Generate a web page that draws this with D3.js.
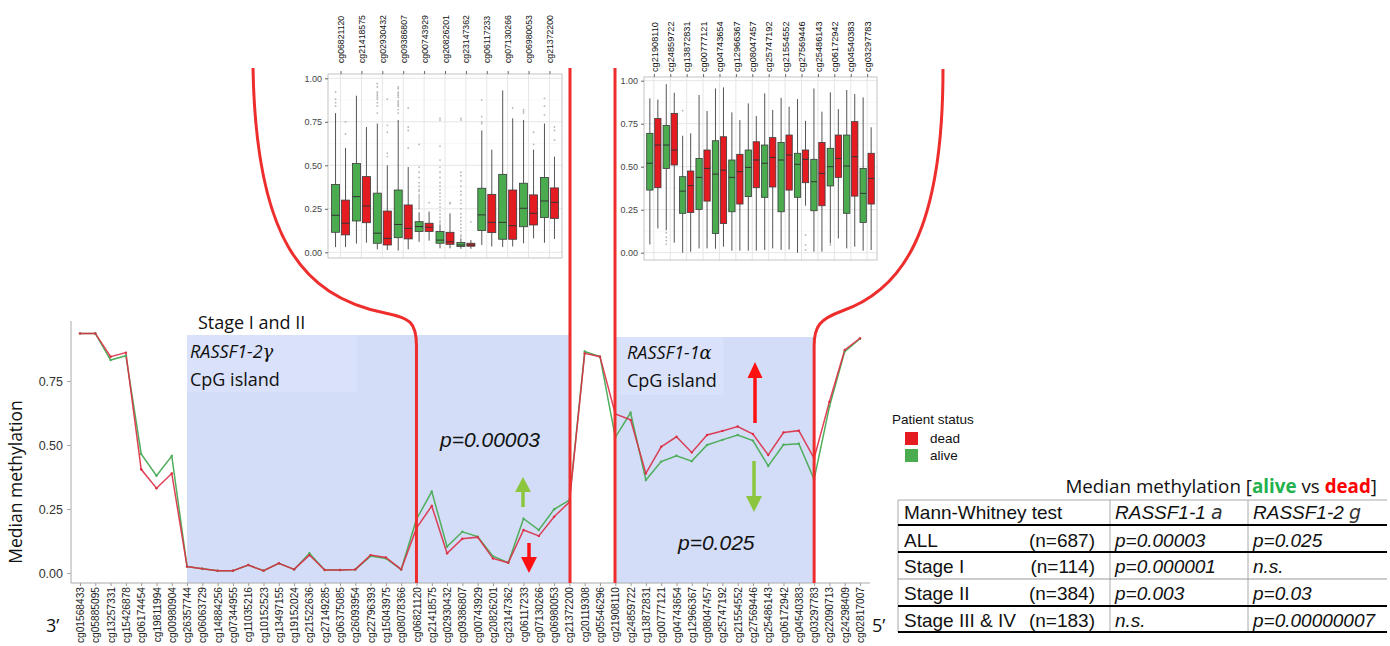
<!DOCTYPE html>
<html><head><meta charset="utf-8">
<script src="https://cdn.jsdelivr.net/npm/d3@7"></script>
<style>body{margin:0;background:#fff} svg{display:block}</style>
</head><body>
<svg id="c" width="1390" height="646"></svg>
<script>
// ---------------- DATA ----------------
const probes = ["cg01568433","cg05885095","cg13257331","cg15426878","cg06174454","cg19811994","cg00980904","cg26357744","cg06063729","cg14884256","cg07344955","cg11035216","cg10152523","cg13497155","cg19152024","cg21522636","cg27149285","cg06375085","cg26093954","cg22796393","cg15043975","cg08078366","cg06821120","cg21418575","cg02930432","cg09386807","cg00743929","cg20826201","cg23147362","cg06117233","cg07130266","cg06980053","cg21372200","cg20119308","cg05546296","cg21908110","cg24859722","cg13872831","cg00777121","cg04743654","cg12966367","cg08047457","cg25747192","cg21554552","cg27569446","cg25486143","cg06172942","cg04540383","cg03297783","cg22090713","cg24298409","cg02817007"];
const aliveMedian = [0.936,0.936,0.832,0.849,0.465,0.380,0.457,0.025,0.017,0.009,0.009,0.031,0.009,0.038,0.014,0.077,0.012,0.012,0.014,0.066,0.057,0.014,0.210,0.318,0.103,0.161,0.142,0.066,0.040,0.212,0.168,0.249,0.285,0.865,0.845,0.530,0.626,0.363,0.435,0.458,0.437,0.500,0.520,0.539,0.517,0.418,0.501,0.505,0.366,0.650,0.865,0.915];
const deadMedian  = [0.936,0.936,0.845,0.861,0.405,0.331,0.389,0.025,0.017,0.009,0.009,0.031,0.009,0.038,0.014,0.070,0.012,0.012,0.014,0.070,0.061,0.014,0.175,0.262,0.077,0.134,0.140,0.057,0.040,0.168,0.145,0.220,0.277,0.858,0.845,0.621,0.598,0.389,0.493,0.532,0.471,0.539,0.555,0.572,0.543,0.461,0.549,0.556,0.448,0.669,0.871,0.917];
const mainYTicks = [0, 0.25, 0.5, 0.75];
const shadedRegions = [["cg26357744","cg21372200"],["cg21908110","cg03297783"]];

const inset1Probes = ["cg06821120","cg21418575","cg02930432","cg09386807","cg00743929","cg20826201","cg23147362","cg06117233","cg07130266","cg06980053","cg21372200"];
// [lower whisker, Q1, median, Q3, upper whisker]
const inset1Alive = [[0.03,0.115,0.213,0.39,0.80],[0.05,0.18,0.32,0.51,0.90],[0.017,0.052,0.11,0.34,0.74],[0.01,0.084,0.16,0.358,0.76],[0.06,0.12,0.148,0.176,0.23],[0.023,0.052,0.07,0.12,0.16],[0.02,0.033,0.042,0.056,0.08],[0.042,0.125,0.215,0.368,0.70],[0.03,0.075,0.172,0.448,0.93],[0.052,0.147,0.253,0.397,0.76],[0.055,0.20,0.295,0.43,0.74]];
const inset1Dead = [[0.03,0.10,0.167,0.30,0.60],[0.055,0.17,0.266,0.435,0.72],[0.013,0.042,0.08,0.237,0.50],[0.017,0.077,0.138,0.272,0.49],[0.067,0.12,0.144,0.167,0.234],[0.023,0.046,0.06,0.115,0.224],[0.02,0.035,0.042,0.052,0.07],[0.033,0.113,0.172,0.333,0.59],[0.033,0.075,0.153,0.358,0.77],[0.08,0.157,0.224,0.33,0.59],[0.077,0.195,0.287,0.37,0.55]];
const inset1AliveOut = [[0.92,0.88,0.86,0.84],[],[0.97,0.95,0.92,0.91,0.90,0.89,0.88,0.86,0.84,0.80],[0.95,0.94,0.92,0.91,0.90,0.89,0.87,0.86,0.85,0.84,0.82,0.80],[0.62,0.49,0.46,0.43,0.40,0.38,0.36,0.35,0.33,0.32,0.31,0.30,0.29,0.28,0.27,0.26,0.25],[0.77,0.76,0.61,0.53,0.49,0.46,0.43,0.40,0.38,0.36,0.34,0.32,0.30,0.28,0.26,0.24,0.22,0.20,0.18,0.17],[0.77,0.76,0.46,0.44,0.41,0.38,0.35,0.33,0.30,0.28,0.25,0.22,0.20,0.18,0.16,0.14,0.12,0.10,0.09],[0.875,0.78,0.75,0.74],[],[0.82,0.81,0.80],[0.885,0.84,0.79]];
const inset1DeadOut = [[0.75,0.68],[],[0.88,0.73,0.69,0.57,0.55],[0.83,0.72,0.70,0.60],[0.285],[0.285,0.28],[0.175],[],[0.83],[0.69,0.62],[0.72,0.70,0.645]];

const inset2Probes = ["cg21908110","cg24859722","cg13872831","cg00777121","cg04743654","cg12966367","cg08047457","cg25747192","cg21554552","cg27569446","cg25486143","cg06172942","cg04540383","cg03297783"];
const inset2Alive = [[0.048,0.364,0.52,0.694,0.897],[0.13,0.49,0.626,0.74,0.98],[0.0,0.229,0.358,0.442,0.68],[0.025,0.252,0.438,0.548,0.917],[0.023,0.112,0.457,0.651,0.955],[0.012,0.238,0.438,0.539,0.816],[0.012,0.326,0.496,0.597,0.868],[0.016,0.322,0.52,0.626,0.926],[0.016,0.238,0.539,0.641,0.90],[0.0,0.322,0.514,0.578,0.893],[0.006,0.244,0.413,0.543,0.955],[0.054,0.388,0.50,0.607,0.932],[0.025,0.229,0.504,0.684,0.946],[0.012,0.176,0.345,0.49,0.903]];
const inset2Dead = [[0.141,0.378,0.626,0.78,0.89],[0.058,0.51,0.597,0.81,0.93],[0.006,0.234,0.39,0.475,0.694],[0.025,0.30,0.49,0.597,0.824],[0.035,0.17,0.48,0.674,0.961],[0.012,0.283,0.471,0.572,0.771],[0.012,0.378,0.539,0.645,0.795],[0.025,0.382,0.554,0.669,0.83],[0.019,0.364,0.568,0.684,0.849],[0.273,0.407,0.543,0.597,0.767],[0.006,0.273,0.461,0.641,0.82],[0.083,0.438,0.548,0.684,0.835],[0.035,0.329,0.558,0.762,0.922],[0.016,0.283,0.432,0.578,0.729]];
const inset2AliveOut = [[],[0.116,0.09,0.07,0.05],[0.826],[],[],[],[],[],[],[],[],[0.045],[],[]];
const inset2DeadOut = [[],[],[],[],[],[],[],[],[],[0.103,0.045,0.016],[],[],[],[]];
const insetTicks = [0, 0.25, 0.5, 0.75, 1];

const legendLabels = ["dead","alive"];
const tableHeader = ["Mann-Whitney test","RASSF1-1","RASSF1-2"];
const tableHeaderGreek = ["","a","g"];
const tableRows = [["ALL","(n=687)","p=0.00003","p=0.025"],["Stage I","(n=114)","p=0.000001","n.s."],["Stage II","(n=384)","p=0.003","p=0.03"],["Stage III & IV","(n=183)","n.s.","p=0.00000007"]];

// ---------------- STYLE ----------------
const GREEN = "#4aac4f", RED = "#e41c22";
const LINE_G = "#4fae5c", LINE_R = "#dc2e45";
const BRACKET = "#ee2d2d";
const SHADE = "#d3ddf8", SHADE_TXT = "#d9e2fa";
const ARIAL = "'Liberation Sans', Arial, sans-serif";
const CAL = "'Open Sans', 'Noto Sans', sans-serif";

const svg = d3.select("#c");

// ---------------- MAIN CHART ----------------
const x = d3.scalePoint().domain(probes).range([80, 860]);
const y = d3.scaleLinear().domain([0, 1]).range([573, 317]);
const AX_BOTTOM = 583;

// shaded regions
svg.selectAll("rect.shade").data(shadedRegions).join("rect")
  .attr("class","shade")
  .attr("x", d => x(d[0])).attr("width", d => x(d[1]) - x(d[0]))
  .attr("y", (d,i) => i === 0 ? 335 : 337)
  .attr("height", (d,i) => AX_BOTTOM - (i === 0 ? 335 : 337))
  .attr("fill", SHADE);
svg.append("rect").attr("x", x(shadedRegions[0][0])).attr("y",335).attr("width",170).attr("height",57).attr("fill",SHADE_TXT);
svg.append("rect").attr("x", x(shadedRegions[1][0])+4).attr("y",337).attr("width",104).attr("height",58).attr("fill",SHADE_TXT);

// lines
const line = d3.line().x((d,i) => x(probes[i])).y(d => y(d));
svg.append("path").datum(aliveMedian).attr("d", line).attr("fill","none").attr("stroke",LINE_G).attr("stroke-width",1.5);
svg.append("path").datum(deadMedian).attr("d", line).attr("fill","none").attr("stroke",LINE_R).attr("stroke-width",1.5).attr("stroke-opacity",0.9);
svg.selectAll("circle.pa").data(aliveMedian).join("circle").attr("class","pa")
  .attr("cx",(d,i)=>x(probes[i])).attr("cy",d=>y(d)).attr("r",1.2).attr("fill",LINE_G);
svg.selectAll("circle.pd").data(deadMedian).join("circle").attr("class","pd")
  .attr("cx",(d,i)=>x(probes[i])).attr("cy",d=>y(d)).attr("r",1.2).attr("fill",LINE_R);

// axes
const yAxis = svg.append("g").attr("transform","translate(71,0)")
  .call(d3.axisLeft(y).tickValues(mainYTicks).tickFormat(d3.format(".2f")).tickSize(4).tickSizeOuter(0));
yAxis.select(".domain").remove();
yAxis.selectAll("line").attr("stroke","#aaa");
yAxis.selectAll("text").attr("font-family",ARIAL).attr("font-size",12.5).attr("fill","#333").attr("x",-8);
svg.append("line").attr("x1",71).attr("x2",71).attr("y1",321).attr("y2",AX_BOTTOM).attr("stroke","#aaa");

const xAxis = svg.append("g").attr("transform",`translate(0,${AX_BOTTOM})`)
  .call(d3.axisBottom(x).tickSize(3).tickSizeOuter(0));
xAxis.select(".domain").remove();
xAxis.selectAll("line").attr("stroke","#999");
xAxis.selectAll("text").attr("font-family",ARIAL).attr("font-size",10.2).attr("fill","#222")
  .attr("transform","rotate(-90)").attr("text-anchor","end").attr("x",-4).attr("y",0).attr("dy","0.35em");
svg.append("line").attr("x1",71).attr("x2",870).attr("y1",AX_BOTTOM).attr("y2",AX_BOTTOM).attr("stroke","#aaa");

// y label
svg.append("text").attr("transform","translate(22,482) rotate(-90)").attr("text-anchor","middle")
  .attr("font-family",CAL).attr("font-size",17.5).attr("fill","#111").text("Median methylation");
svg.append("text").attr("x",46).attr("y",632).attr("font-family",CAL).attr("font-size",18).attr("fill","#111").text("3\u2019");
svg.append("text").attr("x",872).attr("y",632).attr("font-family",CAL).attr("font-size",18).attr("fill","#111").text("5\u2019");

// region texts
svg.append("text").attr("x",198).attr("y",329).attr("font-family",CAL).attr("font-size",18).attr("fill","#111").text("Stage I and II");
function geneLabel(px, py, name, greek){
  const t = svg.append("text").attr("x",px).attr("y",py).attr("font-family",CAL).attr("font-size",18).attr("fill","#111");
  t.append("tspan").attr("font-style","italic").text(name);
  t.append("tspan").attr("font-style","italic").attr("font-family","'DejaVu Serif', serif").attr("font-size",18).text(greek);
}
geneLabel(190,358,"RASSF1-2","\u03b3");
svg.append("text").attr("x",190).attr("y",386).attr("font-family",CAL).attr("font-size",18).attr("fill","#111").text("CpG island");
geneLabel(627,359,"RASSF1-1","\u03b1");
svg.append("text").attr("x",627).attr("y",387).attr("font-family",CAL).attr("font-size",18).attr("fill","#111").text("CpG island");

svg.append("text").attr("x",440).attr("y",447).attr("font-family",ARIAL).attr("font-style","italic").attr("font-size",21).attr("fill","#111").text("p=0.00003");
svg.append("text").attr("x",678).attr("y",550).attr("font-family",ARIAL).attr("font-style","italic").attr("font-size",21).attr("fill","#111").text("p=0.025");

// arrows
function arrow(cx, yTail, yTip, color, shaftW, headW, headL){
  const dir = yTip < yTail ? -1 : 1;
  const yb = yTip - dir*headL;
  const p = d3.path();
  p.moveTo(cx - shaftW/2, yTail); p.lineTo(cx - shaftW/2, yb); p.lineTo(cx - headW/2, yb);
  p.lineTo(cx, yTip); p.lineTo(cx + headW/2, yb); p.lineTo(cx + shaftW/2, yb); p.lineTo(cx + shaftW/2, yTail); p.closePath();
  svg.append("path").attr("d", p.toString()).attr("fill", color);
}
arrow(523, 507, 477, "#8cc63e", 3.5, 16, 15);
arrow(529, 543, 573, "#ff1010", 3.5, 16, 16);
arrow(755, 423, 362, "#ff1010", 3.5, 15, 16);
arrow(754, 461, 512, "#8cc63e", 3.5, 16, 16);

// red brackets
function vline(xp, y1){ svg.append("line").attr("x1",xp).attr("x2",xp).attr("y1",y1).attr("y2",AX_BOTTOM).attr("stroke",BRACKET).attr("stroke-width",3); }
vline(570, 68);
vline(615, 68);
const xa = x("cg06821120"), xb = x("cg03297783");
svg.append("path").attr("d",`M253,68 C256,235 300,296 385,313 C410,318 ${xa},322 ${xa},346 L${xa},${AX_BOTTOM}`)
  .attr("fill","none").attr("stroke",BRACKET).attr("stroke-width",3);
svg.append("path").attr("d",`M943,69 C943,232 902,290 842,311 C820,319 ${xb},326 ${xb},346 L${xb},${AX_BOTTOM}`)
  .attr("fill","none").attr("stroke",BRACKET).attr("stroke-width",3);

// ---------------- INSETS ----------------
function inset(opt){
  const {probesList, alive, dead, aliveOut, deadOut, x0, x1, yTop, yBot, y0, y1v, labBottom, labSize, boxW, off} = opt;
  const xs = d3.scalePoint().domain(probesList).range([x0, x1]).padding(0.6);
  const ys = d3.scaleLinear().domain([0,1]).range([y0, y1v]);
  const g = svg.append("g");
  g.append("rect").attr("x",x0).attr("y",yTop).attr("width",x1-x0).attr("height",yBot-yTop).attr("fill","#fff");
  const minor = [0.125,0.375,0.625,0.875];
  g.selectAll("line.mi").data(minor).join("line").attr("x1",x0).attr("x2",x1).attr("y1",d=>ys(d)).attr("y2",d=>ys(d)).attr("stroke","#f2f2f2").attr("stroke-width",0.6);
  g.selectAll("line.ma").data(insetTicks).join("line").attr("x1",x0).attr("x2",x1).attr("y1",d=>ys(d)).attr("y2",d=>ys(d)).attr("stroke","#e6e6e6").attr("stroke-width",1);
  g.selectAll("line.vg").data(probesList).join("line").attr("x1",d=>xs(d)).attr("x2",d=>xs(d)).attr("y1",yTop).attr("y2",yBot).attr("stroke","#e6e6e6").attr("stroke-width",1);
  g.append("rect").attr("x",x0).attr("y",yTop).attr("width",x1-x0).attr("height",yBot-yTop).attr("fill","none").attr("stroke","#c4c4c4");
  const ya = g.append("g").attr("transform",`translate(${x0},0)`).call(d3.axisLeft(ys).tickValues(insetTicks).tickFormat(d3.format(".2f")).tickSize(3).tickSizeOuter(0));
  ya.select(".domain").remove();
  ya.selectAll("line").attr("stroke","#666");
  ya.selectAll("text").attr("font-family",ARIAL).attr("font-size",9).attr("fill","#444");
  const xa2 = g.append("g").attr("transform",`translate(0,${yTop})`).call(d3.axisTop(xs).tickSize(3).tickSizeOuter(0));
  xa2.select(".domain").remove();
  xa2.selectAll("line").attr("stroke","#666");
  xa2.selectAll("text").attr("font-family",ARIAL).attr("font-size",labSize).attr("fill","#111")
    .attr("transform","rotate(-90)").attr("text-anchor","start").attr("x", yTop - labBottom).attr("y",0).attr("dy","0.35em");
  function boxes(stats, outs, dx, fill){
    stats.forEach((s,i) => {
      const cx = xs(probesList[i]) + dx;
      g.append("line").attr("x1",cx).attr("x2",cx).attr("y1",ys(s[0])).attr("y2",ys(s[1])).attr("stroke","#555").attr("stroke-width",1);
      g.append("line").attr("x1",cx).attr("x2",cx).attr("y1",ys(s[3])).attr("y2",ys(s[4])).attr("stroke","#555").attr("stroke-width",1);
      g.append("rect").attr("x",cx-boxW/2).attr("width",boxW).attr("y",ys(s[3])).attr("height",ys(s[1])-ys(s[3]))
        .attr("fill",fill).attr("stroke","#3a3a3a").attr("stroke-width",0.8);
      g.append("line").attr("x1",cx-boxW/2).attr("x2",cx+boxW/2).attr("y1",ys(s[2])).attr("y2",ys(s[2])).attr("stroke","#333").attr("stroke-width",1);
      outs[i].forEach(o => g.append("circle").attr("cx",cx).attr("cy",ys(o)).attr("r",0.9).attr("fill","#999").attr("fill-opacity",0.7));
    });
  }
  boxes(alive, aliveOut, -off, GREEN);
  boxes(dead, deadOut, off, RED);
}
inset({probesList:inset1Probes, alive:inset1Alive, dead:inset1Dead, aliveOut:inset1AliveOut, deadOut:inset1DeadOut,
  x0:328, x1:562, yTop:74, yBot:258, y0:252.3, y1v:78.3, labBottom:63, labSize:8.7, boxW:8, off:5});
inset({probesList:inset2Probes, alive:inset2Alive, dead:inset2Dead, aliveOut:inset2AliveOut, deadOut:inset2DeadOut,
  x0:644, x1:877, yTop:77, yBot:260, y0:252.7, y1v:80.7, labBottom:72, labSize:9.2, boxW:6.3, off:4});

// ---------------- LEGEND ----------------
svg.append("text").attr("x",892).attr("y",424).attr("font-family",ARIAL).attr("font-size",13.5).attr("fill","#111").text("Patient status");
const legColor = d3.scaleOrdinal().domain(legendLabels).range([RED, GREEN]);
const lg = svg.selectAll("g.leg").data(legendLabels).join("g").attr("class","leg")
  .attr("transform",(d,i)=>`translate(905,${432 + i*17})`);
lg.append("rect").attr("width",13).attr("height",13).attr("fill",d=>legColor(d));
lg.append("text").attr("x",25).attr("y",11).attr("font-family",ARIAL).attr("font-size",13.5).attr("fill","#111").text(d=>d);

// ---------------- TABLE ----------------
const title = svg.append("text").attr("x",1377).attr("y",493).attr("text-anchor","end").attr("font-family",CAL).attr("font-size",18.8).attr("fill","#111");
title.append("tspan").text("Median methylation [");
title.append("tspan").attr("fill","#22b14c").attr("font-weight","bold").text("alive");
title.append("tspan").text(" vs ");
title.append("tspan").attr("fill","#ff0000").attr("font-weight","bold").text("dead");
title.append("tspan").text("]");

const colX = [898, 1110, 1248, 1387];
const rowLines = [{y:500,c:"#aaa",w:1},{y:525,c:"#000",w:2},{y:552,c:"#000",w:2},{y:579,c:"#999",w:1},{y:606,c:"#000",w:2},{y:632,c:"#000",w:2}];
svg.selectAll("line.tv").data(colX.slice(0,3)).join("line").attr("x1",d=>d).attr("x2",d=>d).attr("y1",500).attr("y2",632).attr("stroke","#aaa");
svg.selectAll("line.th").data(rowLines).join("line").attr("x1",898).attr("x2",1387).attr("y1",d=>d.y).attr("y2",d=>d.y).attr("stroke",d=>d.c).attr("stroke-width",d=>d.w);

const FS = 19;
tableHeader.forEach((h,i) => {
  const t = svg.append("text").attr("x", colX[i]+ (i===0?6:5)).attr("y",519).attr("font-family",ARIAL).attr("font-size",FS).attr("fill","#111");
  if (i === 0) t.text(h);
  else {
    t.append("tspan").attr("font-style","italic").text(h + " ");
    t.append("tspan").attr("font-style","italic").attr("font-family","'DejaVu Sans', sans-serif").attr("font-weight",200).attr("fill","#333").text(tableHeaderGreek[i]);
  }
});
const rowY = [546.5, 573, 600, 626.5];
tableRows.forEach((r,i) => {
  svg.append("text").attr("x",904).attr("y",rowY[i]).attr("font-family",ARIAL).attr("font-size",FS).attr("fill","#111").text(r[0]);
  svg.append("text").attr("x",1095).attr("y",rowY[i]).attr("text-anchor","end").attr("font-family",ARIAL).attr("font-size",FS).attr("fill","#111").text(r[1]);
  svg.append("text").attr("x",1115).attr("y",rowY[i]).attr("font-family",ARIAL).attr("font-style","italic").attr("font-size",FS).attr("fill","#111").text(r[2]);
  svg.append("text").attr("x",1253).attr("y",rowY[i]).attr("font-family",ARIAL).attr("font-style","italic").attr("font-size",FS).attr("fill","#111").text(r[3]);
});
</script>
</body></html>
